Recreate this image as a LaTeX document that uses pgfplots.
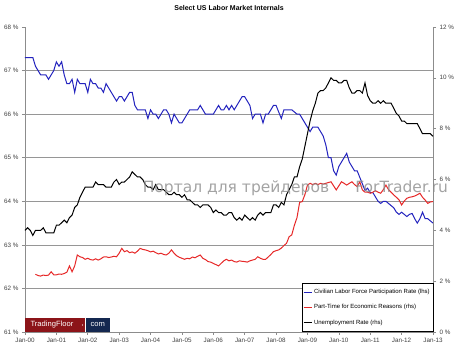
\documentclass[border=0pt]{standalone}
\usepackage{pgfplots}
\pgfplotsset{compat=1.18}
\usepackage{fontspec}
\setmainfont{Liberation Sans}
\newfontfamily\wmfont{DejaVu Sans}
\definecolor{lfpr}{RGB}{35,35,190}
\definecolor{pter}{RGB}{230,40,40}
\definecolor{gridc}{RGB}{150,150,150}
\definecolor{axc}{RGB}{140,140,140}
\definecolor{tfred}{RGB}{140,20,25}
\definecolor{tfnavy}{RGB}{20,40,80}
\begin{document}
\begin{tikzpicture}
\path[use as bounding box] (-25pt,-19pt) rectangle (431pt,332pt);
\begin{axis}[
  at={(0,0)}, anchor=south west,
  scale only axis, width=408pt, height=305pt,
  xmin=0, xmax=156, ymin=61, ymax=68,
  axis x line*=bottom, axis y line*=left,
  axis line style={draw=axc, line width=0.7pt},
  tick style={draw=axc, line width=0.6pt},
  tick align=outside, major tick length=3pt,
  xtick={0,12,...,156},
  xticklabels={Jan-00,Jan-01,Jan-02,Jan-03,Jan-04,Jan-05,Jan-06,Jan-07,Jan-08,Jan-09,Jan-10,Jan-11,Jan-12,Jan-13},
  ytick={61,62,...,68},
  yticklabels={61 \%,62 \%,63 \%,64 \%,65 \%,66 \%,67 \%,68 \%},
  extra y ticks={62,63,...,67}, extra y tick labels={},
  extra y tick style={grid=major, major tick length=0pt},
  grid style={draw=gridc, line width=0.6pt},
  ticklabel style={font=\fontsize{6.3}{7}\selectfont, text=black!75},
  title={Select US Labor Market Internals},
  title style={at={(0.5,1)}, anchor=base, yshift=11pt, font=\fontsize{7}{8}\selectfont\bfseries},
  clip=false,
]
\addplot[lfpr, line width=1pt, mark=none] coordinates {
(0,67.3)(1,67.3)(2,67.3)(3,67.3)(4,67.1)(5,67.0)(6,66.9)(7,66.9)(8,66.9)(9,66.8)(10,66.9)(11,67.0)
(12,67.2)(13,67.1)(14,67.2)(15,66.9)(16,66.7)(17,66.7)(18,66.8)(19,66.5)(20,66.8)(21,66.7)(22,66.7)(23,66.7)
(24,66.5)(25,66.8)(26,66.7)(27,66.7)(28,66.6)(29,66.6)(30,66.5)(31,66.7)(32,66.6)(33,66.5)(34,66.4)(35,66.3)
(36,66.4)(37,66.4)(38,66.3)(39,66.4)(40,66.5)(41,66.5)(42,66.2)(43,66.1)(44,66.1)(45,66.1)(46,66.1)(47,65.9)
(48,66.1)(49,66.0)(50,66.0)(51,65.9)(52,66.0)(53,66.1)(54,66.1)(55,66.0)(56,65.8)(57,66.0)(58,65.9)(59,65.8)
(60,65.8)(61,65.9)(62,66.0)(63,66.1)(64,66.1)(65,66.1)(66,66.1)(67,66.2)(68,66.1)(69,66.0)(70,66.0)(71,66.0)
(72,66.0)(73,66.1)(74,66.2)(75,66.1)(76,66.1)(77,66.2)(78,66.1)(79,66.2)(80,66.1)(81,66.2)(82,66.3)(83,66.4)
(84,66.4)(85,66.3)(86,66.2)(87,65.9)(88,66.0)(89,66.0)(90,66.0)(91,65.8)(92,66.0)(93,66.0)(94,66.1)(95,66.2)
(96,66.2)(97,66.05)(98,65.9)(99,66.1)(100,66.1)(101,66.1)(102,66.1)(103,66.05)(104,66.0)(105,66.0)(106,65.9)(107,65.8)
(108,65.7)(109,65.6)(110,65.7)(111,65.7)(112,65.7)(113,65.6)(114,65.5)(115,65.3)(116,65.0)(117,65.0)(118,64.7)(119,64.6)
(120,64.8)(121,64.9)(122,65.0)(123,65.1)(124,64.9)(125,64.8)(126,64.7)(127,64.7)(128,64.55)(129,64.4)(130,64.25)(131,64.3)
(132,64.2)(133,64.2)(134,64.1)(135,64.0)(136,63.95)(137,64.0)(138,64.0)(139,63.95)(140,63.9)(141,63.85)(142,63.75)(143,63.7)
(144,63.75)(145,63.7)(146,63.65)(147,63.7)(148,63.72)(149,63.6)(150,63.5)(151,63.6)(152,63.75)(153,63.6)(154,63.6)(155,63.55)(156,63.5)
};
% logo
\fill[tfred] (rel axis cs:0,0) rectangle (rel axis cs:0.147,0.046);
\fill[tfnavy] (rel axis cs:0.149,0) rectangle (rel axis cs:0.208,0.046);
\node[text=white, font=\fontsize{7.6}{8}\selectfont, anchor=center] at (rel axis cs:0.066,0.023) {TradingFloor};
\fill[white] (rel axis cs:0.141,0.023) circle (0.6pt);
\node[text=white, font=\fontsize{7.6}{8}\selectfont, anchor=center] at (rel axis cs:0.1785,0.023) {com};
\end{axis}
\begin{axis}[
  at={(0,0)}, anchor=south west,
  scale only axis, width=408pt, height=305pt,
  xmin=0, xmax=156, ymin=0, ymax=12,
  axis x line=none, axis y line*=right,
  axis line style={draw=axc, line width=0.7pt},
  tick style={draw=axc, line width=0.6pt},
  tick align=outside, major tick length=3pt,
  ytick={0,2,...,12},
  yticklabels={0 \%,2 \%,4 \%,6 \%,8 \%,10 \%,12 \%},
  ticklabel style={font=\fontsize{6.3}{7}\selectfont, text=black!75},
  legend cell align=left,
  legend style={at={(rel axis cs:1,0)}, anchor=south east, draw=black, line width=0.5pt, fill=white,
    font=\fontsize{6}{7}\selectfont, row sep=5.5pt, inner xsep=1pt, inner ysep=4pt},
  legend image code/.code={\draw[#1, line width=1pt] (0pt,0pt) -- (8pt,0pt);},
  clip=false,
]
\addlegendimage{lfpr}
\addlegendentry{Civilian Labor Force Participation Rate (lhs)}
\addplot[pter, line width=1pt, mark=none] coordinates {
(4,2.27)(5,2.22)(6,2.2)(7,2.24)(8,2.22)(9,2.24)(10,2.37)(11,2.25)(12,2.25)(13,2.28)(14,2.27)(15,2.3)
(16,2.35)(17,2.6)(18,2.37)(19,2.6)(20,3.03)(21,2.96)(22,2.93)(23,2.86)(24,2.9)(25,2.85)(26,2.83)(27,2.88)
(28,2.83)(29,2.88)(30,2.95)(31,2.96)(32,2.93)(33,2.95)(34,2.98)(35,2.96)(36,3.1)(37,3.29)(38,3.16)(39,3.2)
(40,3.12)(41,3.15)(42,3.1)(43,3.18)(44,3.29)(45,3.25)(46,3.23)(47,3.2)(48,3.15)(49,3.18)(50,3.12)(51,3.07)
(52,3.1)(53,3.05)(54,3.03)(55,3.1)(56,3.23)(57,3.1)(58,3.0)(59,2.94)(60,2.9)(61,2.86)(62,2.9)(63,2.88)
(64,2.95)(65,2.92)(66,2.98)(67,3.03)(68,2.9)(69,2.85)(70,2.77)(71,2.75)(72,2.7)(73,2.65)(74,2.6)(75,2.7)
(76,2.8)(77,2.86)(78,2.8)(79,2.83)(80,2.77)(81,2.75)(82,2.8)(83,2.78)(84,2.77)(85,2.75)(86,2.8)(87,2.83)
(88,2.86)(89,2.96)(90,2.9)(91,2.86)(92,2.86)(93,2.95)(94,3.05)(95,3.16)(96,3.2)(97,3.23)(98,3.3)(99,3.4)
(100,3.49)(101,3.75)(102,3.82)(103,4.2)(104,4.5)(105,5.1)(106,5.13)(107,5.4)(108,5.78)(109,5.85)(110,5.8)(111,5.85)
(112,5.8)(113,5.85)(114,5.82)(115,5.85)(116,5.88)(117,5.91)(118,5.75)(119,5.59)(120,5.75)(121,5.91)(122,5.85)(123,5.78)
(124,5.85)(125,5.91)(126,5.8)(127,5.72)(128,5.91)(129,5.59)(130,5.5)(131,5.5)(132,5.46)(133,5.5)(134,5.56)(135,5.5)
(136,5.46)(137,5.6)(138,5.78)(139,5.6)(140,5.5)(141,5.39)(142,5.3)(143,5.2)(144,5.0)(145,5.15)(146,5.26)(147,5.3)
(148,5.32)(149,5.35)(150,5.4)(151,5.46)(152,5.3)(153,5.19)(154,5.06)(155,5.12)(156,5.13)
};
\addlegendentry{Part-Time for Economic Reasons (rhs)}
\addplot[black, line width=1pt, mark=none] coordinates {
(0,4.0)(1,4.1)(2,4.0)(3,3.8)(4,4.0)(5,4.0)(6,4.0)(7,4.1)(8,3.9)(9,3.9)(10,3.9)(11,3.9)
(12,4.2)(13,4.2)(14,4.3)(15,4.4)(16,4.3)(17,4.5)(18,4.6)(19,4.9)(20,5.0)(21,5.3)(22,5.5)(23,5.7)
(24,5.7)(25,5.7)(26,5.7)(27,5.9)(28,5.8)(29,5.8)(30,5.8)(31,5.7)(32,5.7)(33,5.7)(34,5.9)(35,6.0)
(36,5.8)(37,5.9)(38,5.9)(39,6.0)(40,6.1)(41,6.3)(42,6.2)(43,6.1)(44,6.1)(45,6.0)(46,5.8)(47,5.7)
(48,5.7)(49,5.6)(50,5.8)(51,5.6)(52,5.6)(53,5.6)(54,5.5)(55,5.4)(56,5.4)(57,5.5)(58,5.4)(59,5.4)
(60,5.3)(61,5.4)(62,5.2)(63,5.2)(64,5.1)(65,5.0)(66,5.0)(67,4.9)(68,5.0)(69,5.0)(70,5.0)(71,4.9)
(72,4.7)(73,4.8)(74,4.7)(75,4.7)(76,4.6)(77,4.6)(78,4.7)(79,4.7)(80,4.5)(81,4.4)(82,4.5)(83,4.4)
(84,4.6)(85,4.5)(86,4.4)(87,4.5)(88,4.4)(89,4.6)(90,4.7)(91,4.6)(92,4.7)(93,4.7)(94,4.7)(95,5.0)
(96,5.0)(97,4.9)(98,5.1)(99,5.0)(100,5.4)(101,5.6)(102,5.8)(103,6.1)(104,6.1)(105,6.5)(106,6.8)(107,7.3)
(108,7.8)(109,8.3)(110,8.7)(111,9.0)(112,9.4)(113,9.5)(114,9.5)(115,9.6)(116,9.8)(117,10.0)(118,9.9)(119,9.9)
(120,9.8)(121,9.8)(122,9.9)(123,9.9)(124,9.6)(125,9.4)(126,9.4)(127,9.5)(128,9.5)(129,9.4)(130,9.8)(131,9.3)
(132,9.1)(133,9.0)(134,9.0)(135,9.1)(136,9.0)(137,9.1)(138,9.0)(139,9.0)(140,9.0)(141,8.8)(142,8.6)(143,8.5)
(144,8.3)(145,8.3)(146,8.2)(147,8.2)(148,8.2)(149,8.2)(150,8.2)(151,8.0)(152,7.8)(153,7.8)(154,7.8)(155,7.8)(156,7.7)
};
\addlegendentry{Unemployment Rate (rhs)}
\node[anchor=base west, text=black!45, opacity=0.8, font=\wmfont\fontsize{15.5}{16}\selectfont] at (rel axis cs:0.28,0.458) {Портал для трейдеров};
\node[anchor=base west, text=black!45, opacity=0.8, font=\wmfont\fontsize{15.5}{16}\selectfont] at (rel axis cs:0.801,0.458) {ForTrader.ru};
\end{axis}
\end{tikzpicture}
\end{document}
